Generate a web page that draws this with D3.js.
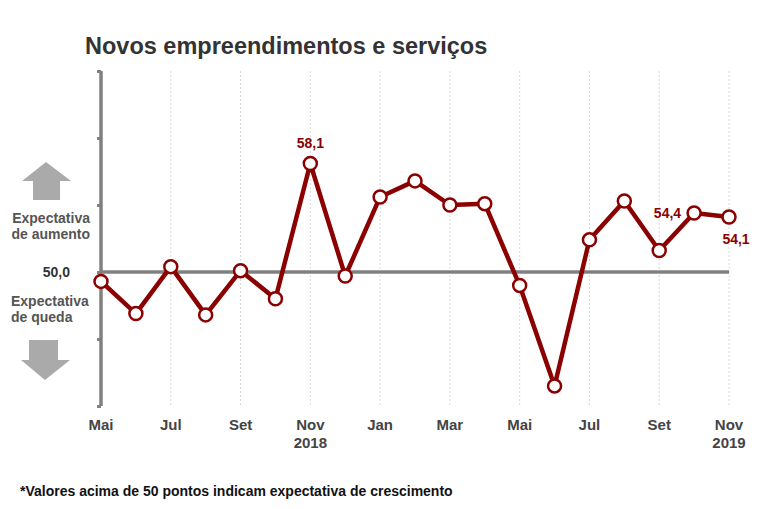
<!DOCTYPE html>
<html>
<head>
<meta charset="utf-8">
<script src="https://cdn.jsdelivr.net/npm/d3@7"></script>
<style>
  body { margin: 0; background: #fff; }
  svg { display: block; font-family: "Liberation Sans", Arial, sans-serif; }
</style>
</head>
<body>
<div id="chart"></div>
<script>
// months from Mai 2018 to Nov 2019
const months = ["Mai", "Jun", "Jul", "Ago", "Set", "Out", "Nov", "Dez", "Jan", "Fev",
  "Mar", "Abr", "Mai", "Jun", "Jul", "Ago", "Set", "Out", "Nov"];
const values = [49.3, 46.9, 50.4, 46.8, 50.1, 48.0, 58.1, 49.7, 55.6, 56.8,
  55.0, 55.1, 49.0, 41.5, 52.4, 55.3, 51.6, 54.4, 54.1];
const yearLabels = [{ i: 6, text: "2018" }, { i: 18, text: "2019" }];
const valueLabels = [{ i: 6, text: "58,1" }, { i: 17, text: "54,4" }, { i: 18, text: "54,1" }];
const yTicks = [40, 45, 50, 55, 60, 65];

const width = 775, height = 509;
const red = "#8b0000";

const svg = d3.select("#chart").append("svg")
    .attr("width", width)
    .attr("height", height);

const x = d3.scaleLinear().domain([0, months.length - 1]).range([101, 729]);
const y = d3.scaleLinear().domain([40, 65]).range([406, 71]);

// title
svg.append("text")
    .attr("x", 85).attr("y", 54)
    .attr("font-size", 23.5).attr("font-weight", "bold").attr("fill", "#333")
    .text("Novos empreendimentos e serviços");

// dotted vertical gridlines on labelled months
const labelled = d3.range(0, months.length, 2);
svg.append("g")
  .selectAll("line")
  .data(labelled.slice(1))
  .join("line")
    .attr("x1", d => x(d)).attr("x2", d => x(d))
    .attr("y1", y(65)).attr("y2", y(40))
    .attr("stroke", "#d8d8d8").attr("stroke-width", 1)
    .attr("stroke-dasharray", "2,2");

// left axis
const yAxis = svg.append("g")
    .attr("transform", `translate(${x(0)},0)`)
    .call(d3.axisLeft(y).tickValues(yTicks).tickSize(4).tickFormat(""));
yAxis.select(".domain").attr("stroke", "#808080").attr("stroke-width", 3.5)
    .attr("d", `M0,${y(65)}V${y(40)}`);
yAxis.selectAll(".tick line").attr("stroke", "#808080").attr("stroke-width", 3);

// 50 reference line
svg.append("line")
    .attr("x1", x(0)).attr("x2", x(months.length - 1))
    .attr("y1", y(50)).attr("y2", y(50))
    .attr("stroke", "#808080").attr("stroke-width", 3.5);

// x labels
svg.append("g")
  .selectAll("text")
  .data(labelled)
  .join("text")
    .attr("x", d => x(d)).attr("y", 430)
    .attr("text-anchor", "middle")
    .attr("font-size", 15).attr("font-weight", "bold").attr("fill", "#444")
    .text(d => months[d]);

svg.append("g")
  .selectAll("text")
  .data(yearLabels)
  .join("text")
    .attr("x", d => x(d.i)).attr("y", 448)
    .attr("text-anchor", "middle")
    .attr("font-size", 15).attr("font-weight", "bold").attr("fill", "#444")
    .text(d => d.text);

// left side annotations
const side = svg.append("g").attr("font-weight", "bold").attr("fill", "#555").attr("font-size", 14);
side.append("text").attr("x", 90).attr("y", 223).attr("text-anchor", "end").text("Expectativa");
side.append("text").attr("x", 90).attr("y", 239).attr("text-anchor", "end").text("de aumento");
side.append("text").attr("x", 11).attr("y", 306).text("Expectativa");
side.append("text").attr("x", 11).attr("y", 322).text("de queda");
svg.append("text")
    .attr("x", 70).attr("y", y(50) + 5).attr("text-anchor", "end")
    .attr("font-size", 14).attr("font-weight", "bold").attr("fill", "#333")
    .text("50,0");

// arrows
svg.append("path")
    .attr("d", "M46,162 L71,181 L60,181 L60,200 L33,200 L33,181 L22,181 Z")
    .attr("fill", "#aaa");
svg.append("path")
    .attr("d", "M29,340 L58,340 L58,360 L70,360 L45,380 L21,360 L29,360 Z")
    .attr("fill", "#aaa");

// line + markers
const line = d3.line().x((d, i) => x(i)).y(d => y(d));
svg.append("path")
    .datum(values)
    .attr("d", line)
    .attr("fill", "none").attr("stroke", red).attr("stroke-width", 4.5)
    .attr("stroke-linejoin", "round");

svg.append("g")
  .selectAll("circle")
  .data(values)
  .join("circle")
    .attr("cx", (d, i) => x(i)).attr("cy", d => y(d))
    .attr("r", 6.5)
    .attr("fill", "#fff").attr("stroke", red).attr("stroke-width", 2.5);

// value labels
const offsets = { 6: [0, -15, "middle"], 17: [-13, 5, "end"], 18: [7, 27, "middle"] };
svg.append("g")
  .selectAll("text")
  .data(valueLabels)
  .join("text")
    .attr("x", d => x(d.i) + offsets[d.i][0])
    .attr("y", d => y(values[d.i]) + offsets[d.i][1])
    .attr("text-anchor", d => offsets[d.i][2])
    .attr("font-size", 14).attr("font-weight", "bold").attr("fill", red)
    .text(d => d.text);

// footnote
svg.append("text")
    .attr("x", 20).attr("y", 496)
    .attr("font-size", 14).attr("font-weight", "bold").attr("fill", "#111")
    .text("*Valores acima de 50 pontos indicam expectativa de crescimento");
</script>
</body>
</html>
